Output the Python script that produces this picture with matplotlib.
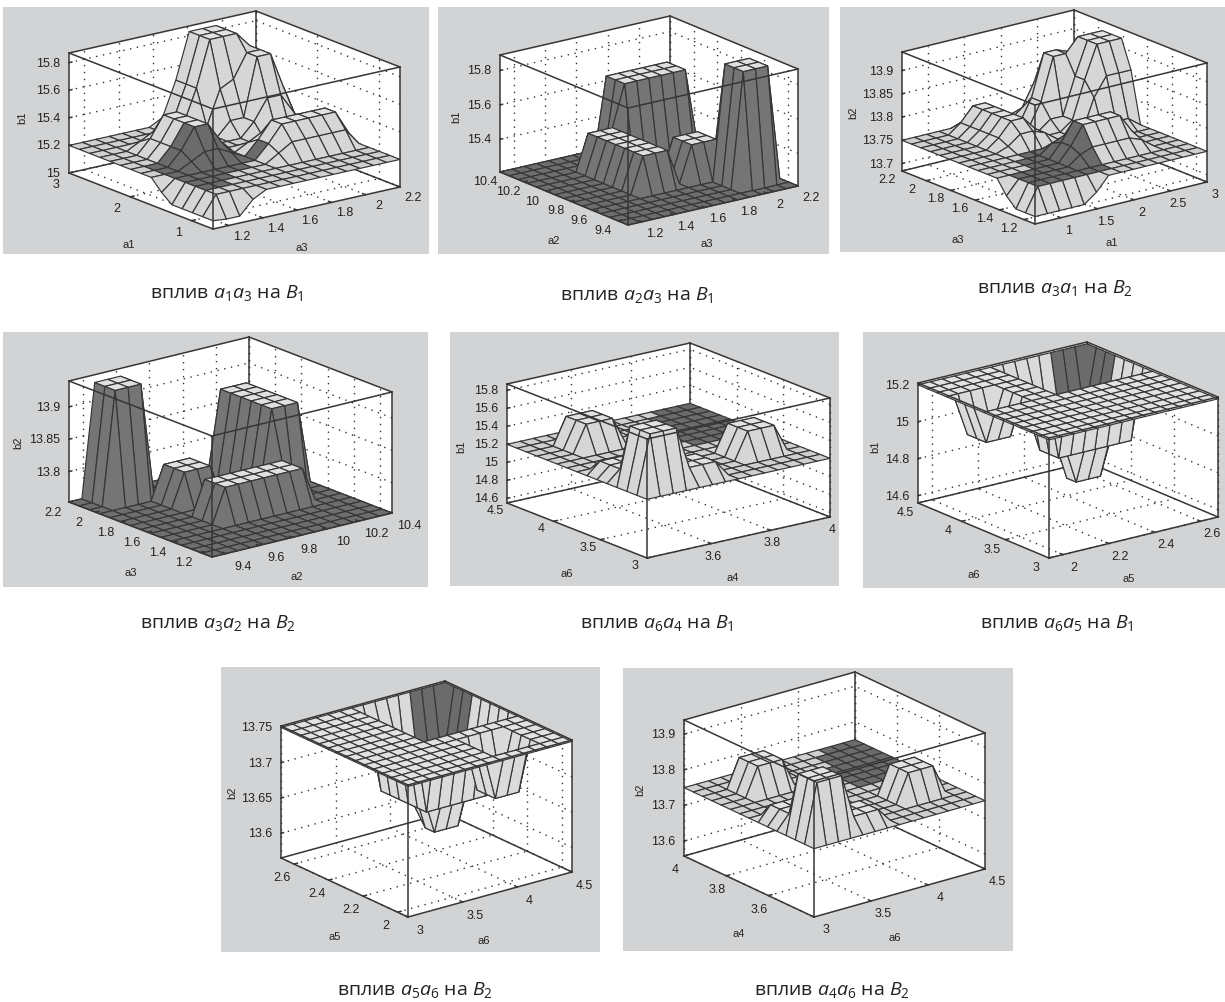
import numpy as np
import matplotlib
matplotlib.use("Agg")
import matplotlib.pyplot as plt
from matplotlib.colors import to_rgba
from matplotlib.patches import Rectangle
from mpl_toolkits.mplot3d import proj3d
from mpl_toolkits.mplot3d.art3d import Poly3DCollection

plt.rcParams['font.family'] = ['Liberation Sans', 'DejaVu Sans']
plt.rcParams['mathtext.fontset'] = 'custom'
plt.rcParams['mathtext.it'] = 'Open Sans:italic'
plt.rcParams['mathtext.rm'] = 'Open Sans'

W, H = 1225, 1003

# Surface heights, rows run along the y axis, 15 x 15 nodes
b = 15.2
z1 = [
    [15.06, 15.05, 15.05, 15.15] + [b] * 11,
    [15.06] + [b] * 14,
    [15.06] + [b] * 14,
    [15.06] + [b] * 14,
    [15.06] + [b] * 7 + [15.26] + [15.32] * 5 + [b],
    [15.12] + [b] * 7 + [15.3] + [15.42] * 5 + [15.25],
    [b] * 3 + [15.25, 15.3, 15.3, 15.25, b, 15.3] + [15.42] * 5 + [15.25],
    [b] * 3 + [15.3, 15.45, 15.45, 15.3, b, 15.25] + [15.3] * 5 + [b],
    [b] * 3 + [15.3, 15.45, 15.45, 15.3] + [b] * 8,
    [b] * 3 + [15.3, 15.45, 15.45, 15.3] + [b] * 3 + [15.3, 15.45, 15.45, 15.3, b],
    [b] * 3 + [15.3, 15.45, 15.45, 15.3, b, b, 15.3, 15.3, 15.72, 15.72, 15.45, b],
    [b] * 3 + [15.25, 15.3, 15.3, 15.25, b, 15.25, 15.5, 15.55, 15.72, 15.72, 15.45, b],
    [b] * 7 + [15.25, 15.5, 15.83, 15.83, 15.83, 15.72, 15.45, b],
    [b] * 7 + [15.25, 15.5, 15.83, 15.83, 15.83, 15.55, 15.25, b],
    [b] * 7 + [15.25, 15.5, 15.83, 15.83, 15.83, 15.45, b, b],
]

b = 15.21
z2 = [
    [b] * 15,
    [b] * 15,
    [b] * 11 + [15.88] * 3 + [b],
    [b] * 11 + [15.88] * 3 + [b],
    [b] * 11 + [15.88] * 3 + [b],
    [b] * 5 + [15.42] * 3 + [b] + [15.42] * 3 + [b] * 3,
    [b] * 5 + [15.42] * 3 + [b] + [15.42] * 3 + [b] * 3,
    [b] * 5 + [15.42] * 3 + [b] + [15.42] * 3 + [b] * 3,
    [b] * 5 + [15.42] * 3 + [b] * 7,
    [b] * 5 + [15.42] * 3 + [b] * 7,
    [b] * 5 + [15.42] * 3 + [b] * 7,
    [b] * 5 + [15.42] * 3 + [15.66] * 6 + [b],
    [b] * 8 + [15.66] * 6 + [b],
    [b] * 8 + [15.66] * 6 + [b],
    [b] * 15,
]

b = 13.75
z3 = [
    [13.7] * 5 + [13.72] + [b] * 9,
    [13.7] + [b] * 14,
    [13.7] + [b] * 14,
    [13.72] + [b] * 5 + [13.77] + [13.78] * 4 + [13.77] + [b] * 3,
    [b] * 6 + [13.78] + [13.82] * 4 + [13.78] + [b] * 3,
    [b] * 6 + [13.78] + [13.82] * 4 + [13.78] + [b] * 3,
    [b] * 6 + [13.77] + [13.78] * 4 + [13.77] + [b] * 3,
    [b] * 12 + [13.77, 13.77, b],
    [b] * 4 + [13.76, 13.78, 13.78, 13.77, b, b, b, 13.82, 13.86, 13.86, 13.86],
    [b] * 4 + [13.77, 13.8, 13.8, 13.77, b, b, 13.77, 13.85, 13.92, 13.92, 13.92],
    [b] * 4 + [13.77, 13.8, 13.8, 13.77, b, 13.77, 13.77, 13.85, 13.92, 13.92, 13.92],
    [b] * 4 + [13.77, 13.8, 13.8, 13.77, b, 13.8, 13.89, 13.89, 13.92, 13.92, 13.92],
    [b] * 4 + [13.77, 13.8, 13.8, 13.77, b, 13.8, 13.89, 13.89, 13.88, 13.8, b],
    [b] * 4 + [13.77, 13.8, 13.8, 13.77, b, 13.77, 13.82, 13.82, 13.78, b, b],
    [b] * 5 + [13.76, 13.76] + [b] * 8,
]

b = 13.753
z4 = [
    [b] * 15,
    [b] * 15,
    [b] * 15,
    [b] * 15,
    [b] * 15,
    [b] * 5 + [13.806] * 7 + [b] * 3,
    [b] * 5 + [13.806] * 7 + [b] * 3,
    [b] * 5 + [13.806] * 7 + [b] * 3,
    [b] * 11 + [13.88] * 3 + [b],
    [b] * 5 + [13.805] * 3 + [b] * 3 + [13.88] * 3 + [b],
    [b] * 5 + [13.805] * 3 + [b] * 3 + [13.88] * 3 + [b],
    [b] * 5 + [13.805] * 3 + [b] * 3 + [13.88] * 3 + [b],
    [b] * 2 + [13.928] * 3 + [b] * 6 + [13.88] * 3 + [b],
    [b] * 2 + [13.928] * 3 + [b] * 6 + [13.88] * 3 + [b],
    [b] * 2 + [13.928] * 3 + [b] * 10,
]

b = 15.2
z5 = [
    [b] * 15,
    [b] + [15.85] * 3 + [15.38] * 3 + [b] * 8,
    [b] + [15.85] * 3 + [15.38] * 3 + [b] * 8,
    [b] + [15.85] * 3 + [15.38] * 3 + [b] * 3 + [15.5] * 3 + [b] * 2,
    [b] + [15.33] * 3 + [b] * 6 + [15.5] * 3 + [b] * 2,
    [b] + [15.33] * 3 + [b] * 6 + [15.5] * 3 + [b] * 2,
    [b] + [15.33] * 3 + [b] * 11,
    [b] * 15,
    [b] * 15,
    [b] * 15,
    [b] * 3 + [15.5] * 3 + [b] * 9,
    [b] * 3 + [15.5] * 3 + [b] * 9,
    [b] * 3 + [15.5] * 3 + [b] * 9,
    [b] * 15,
    [b] * 15,
]

z6 = [
    [b] * 15,
    [b] * 15,
    [b] * 15,
    [b] * 15,
    [b] * 15,
    [b] * 15,
    [b] * 15,
    [b] * 15,
    [b] + [15.0] * 3 + [b] * 3 + [14.82] * 7 + [b],
    [b] + [15.0] * 3 + [b] * 3 + [14.82] * 7 + [b],
    [b] + [15.0] * 3 + [b] * 3 + [14.82] * 3 + [14.6] * 3 + [14.82, b],
    [b] * 7 + [14.95, 14.85, 14.82] + [14.6] * 3 + [14.82, b],
    [b] * 7 + [15.0] * 3 + [14.85] * 4 + [b],
    [b] * 7 + [15.0] * 3 + [14.85] * 4 + [b],
    [b] * 15,
]

b = 13.75
z7 = [
    [b] * 15,
    [b] * 15,
    [b] * 9 + [13.68] * 3 + [b] * 3,
    [b] * 9 + [13.68] * 3 + [b] * 3,
    [b] * 9 + [13.68] * 3 + [b] * 3,
    [b] * 15,
    [b] * 15,
    [b] * 7 + [13.64] * 7 + [b],
    [b] * 7 + [13.64] * 7 + [b],
    [b] * 7 + [13.64] * 7 + [b],
    [b] * 7 + [13.64] * 3 + [13.58] * 3 + [13.64, b],
    [b] * 7 + [13.64] * 3 + [13.58] * 3 + [13.64, b],
    [b] * 7 + [13.64] * 3 + [13.6] * 3 + [13.64, b],
    [b] * 7 + [13.7] * 3 + [13.64] * 4 + [b],
    [b] * 15,
]

z8 = [
    [b] * 15,
    [b] + [13.914] * 3 + [13.79] * 3 + [b] * 8,
    [b] + [13.914] * 3 + [13.79] * 3 + [b] * 8,
    [b] + [13.914] * 3 + [13.79] * 3 + [b] * 3 + [13.83] * 3 + [b] * 2,
    [b] + [13.79] * 3 + [b] * 6 + [13.83] * 3 + [b] * 2,
    [b] + [13.79] * 3 + [b] * 6 + [13.83] * 3 + [b] * 2,
    [b] + [13.79] * 3 + [b] * 11,
    [b] * 15,
    [b] * 15,
    [b] * 15,
    [b] * 3 + [13.83] * 3 + [b] * 9,
    [b] * 3 + [13.83] * 3 + [b] * 9,
    [b] * 3 + [13.83] * 3 + [b] * 9,
    [b] * 15,
    [b] * 15,
]

# Axis ranges and ticks
a1_range, a1_ticks = (0.65, 3), [1, 2, 3]
a1b_ticks = [1, 1.5, 2, 2.5, 3]
a2_range, a2_ticks = (9.315, 10.4), [9.4, 9.6, 9.8, 10, 10.2, 10.4]
a3_range, a3_ticks = (1.11, 2.2), [1.2, 1.4, 1.6, 1.8, 2, 2.2]
a4_range, a4_ticks = (3.384, 4), [3.6, 3.8, 4]
a5_range, a5_ticks = (1.94, 2.676), [2, 2.2, 2.4, 2.6]
a6_range, a6_ticks = (3, 4.5), [3, 3.5, 4, 4.5]

captions = [
    r"вплив $a_1a_3$ на $B_1$", r"вплив $a_2a_3$ на $B_1$", r"вплив $a_3a_1$ на $B_2$",
    r"вплив $a_3a_2$ на $B_2$", r"вплив $a_6a_4$ на $B_1$", r"вплив $a_6a_5$ на $B_1$",
    r"вплив $a_5a_6$ на $B_2$", r"вплив $a_4a_6$ на $B_2$",
]

# x, y and z of each panel
panels = [
    dict(z=z1, xr=a3_range, yr=a1_range, zr=(15, 15.87), xt=a3_ticks, yt=a1_ticks,
         zt=[15, 15.2, 15.4, 15.6, 15.8], names=("a3", "a1", "b1")),
    dict(z=z2, xr=a3_range, yr=a2_range, zr=(15.21, 15.89), xt=a3_ticks, yt=a2_ticks,
         zt=[15.4, 15.6, 15.8], names=("a3", "a2", "b1")),
    dict(z=z3, xr=a1_range, yr=a3_range, zr=(13.684, 13.94), xt=a1b_ticks, yt=a3_ticks,
         zt=[13.7, 13.75, 13.8, 13.85, 13.9], names=("a1", "a3", "b2")),
    dict(z=z4, xr=a2_range, yr=a3_range, zr=(13.753, 13.94), xt=a2_ticks, yt=a3_ticks,
         zt=[13.8, 13.85, 13.9], names=("a2", "a3", "b2")),
    dict(z=z5, xr=a4_range, yr=a6_range, zr=(14.548, 15.87), xt=a4_ticks, yt=a6_ticks,
         zt=[14.6, 14.8, 15, 15.2, 15.4, 15.6, 15.8], names=("a4", "a6", "b1")),
    dict(z=z6, xr=a5_range, yr=a6_range, zr=(14.56, 15.21), xt=a5_ticks, yt=a6_ticks,
         zt=[14.6, 14.8, 15, 15.2], names=("a5", "a6", "b1")),
    dict(z=z7, xr=a6_range, yr=a5_range, zr=(13.565, 13.752), xt=a6_ticks, yt=a5_ticks,
         zt=[13.6, 13.65, 13.7, 13.75], names=("a6", "a5", "b2")),
    dict(z=z8, xr=a6_range, yr=a4_range, zr=(13.558, 13.94), xt=a6_ticks, yt=a4_ticks,
         zt=[13.6, 13.7, 13.8, 13.9], names=("a6", "a4", "b2")),
]

# Layout in image pixels: grey box, box corners front / left / right, box height,
# tick label offsets, label spots for x, y, z and caption centre
layout = [
    dict(grey=(3, 8, 429, 255), F=(213, 230), L=(69, 174), R=(400, 188), h=120, xo=(13, 10), yo=(-13, 11),
         xl=(302, 248), yl=(129, 245), zl=(22, 118), cap=(227, 293)),
    dict(grey=(438, 8, 829, 255), F=(628, 226), L=(500, 173), R=(798, 187), h=117, xo=(13, 11), yo=(-15, 9),
         xl=(707, 244), yl=(554, 241), zl=(456, 117), cap=(637, 295)),
    dict(grey=(840, 8, 1225, 253), F=(1035, 225), L=(902, 172), R=(1207, 183), h=119, xo=(8, 12), yo=(-15, 8),
         xl=(1112, 243), yl=(958, 240), zl=(853, 113), cap=(1055, 288)),
    dict(grey=(3, 333, 428, 588), F=(212, 558), L=(69, 503), R=(392, 514), h=121, xo=(17, 12), yo=(-16, 10),
         xl=(297, 577), yl=(131, 573), zl=(18, 443), cap=(218, 623)),
    dict(grey=(450, 333, 839, 587), F=(647, 559), L=(507, 504), R=(830, 518), h=119, xo=(2, 12), yo=(-12, 7),
         xl=(733, 578), yl=(567, 574), zl=(461, 447), cap=(657, 623)),
    dict(grey=(863, 333, 1225, 589), F=(1049, 559), L=(918, 504), R=(1218, 518), h=120, xo=(11, 12), yo=(-13, 9),
         xl=(1129, 579), yl=(974, 575), zl=(875, 447), cap=(1057, 623)),
    dict(grey=(221, 668, 600, 953), F=(408, 918), L=(281, 859), R=(572, 873), h=132, xo=(12, 13), yo=(-12, 13),
         xl=(484, 941), yl=(335, 937), zl=(232, 793), cap=(415, 990)),
    dict(grey=(623, 669, 1013, 952), F=(814, 918), L=(684, 857), R=(985, 870), h=136, xo=(12, 12), yo=(-9, 13),
         xl=(895, 938), yl=(739, 934), zl=(640, 790), cap=(832, 990)),
]

# Colours: low flat, raised flat, slope, and the cells shown dark (i0, i1, j0, j1)
light_dark = dict(low="#d0d0d0", top="#e2e2e2", slope="#d6d6d6")
all_dark = dict(low="#6e6e6e", top="#e0e0e0", slope="#757575")
sheet = dict(low="#e2e2e2", top="#e2e2e2", slope="#dadada")
pit = [(9, 13, 7, 10), (10, 13, 11, 12), (11, 13, 13, 13)]
styles = [
    dict(light_dark, dark=[(1, 2, 2, 2), (1, 3, 3, 3), (1, 5, 4, 4), (1, 7, 5, 5), (1, 6, 6, 6), (1, 3, 7, 7)]),
    dict(all_dark, dark=[]),
    dict(light_dark, dark=[(1, 6, 1, 3), (3, 6, 4, 5), (4, 6, 6, 6)]),
    dict(all_dark, dark=[]),
    dict(light_dark, dark=pit),
    dict(sheet, dark=[(11, 13, 11, 13)]),
    dict(sheet, dark=[(11, 13, 11, 13)]),
    dict(light_dark, dark=pit),
]
dark_colour = "#6b6b6b"
line_colour = "#363636"
grey_colour = "#d1d3d4"
text_colour = "#222222"


def cell_colours(z, style):
    base = np.median(z)
    cols = np.zeros(z.shape + (4,))
    for j in range(z.shape[0] - 1):
        for i in range(z.shape[1] - 1):
            cell = z[j:j + 2, i:i + 2]
            if cell.max() - cell.min() > 1e-6:
                name = style["slope"]
            elif abs(cell.max() - base) < 1e-6:
                name = style["low"]
            else:
                name = style["top"]
            cols[j, i] = to_rgba(name)
    for i0, i1, j0, j1 in style["dark"]:
        cols[j0:j1 + 1, i0:i1 + 1] = to_rgba(dark_colour)
    return cols


def measure(ax, point):
    ax.apply_aspect()
    x2, y2, _ = proj3d.proj_transform(point[0], point[1], point[2], ax.get_proj())
    return ax.transData.transform((x2, y2))


fig = plt.figure(figsize=(W / 100, H / 100), dpi=100, facecolor="white")

for p, lay, style, caption in zip(panels, layout, styles, captions):
    x0, y0, x1, y1 = lay["grey"]
    fig.add_artist(Rectangle((x0 / W, 1 - y1 / H), (x1 - x0) / W, (y1 - y0) / H,
                             transform=fig.transFigure, fc=grey_colour, ec="none", zorder=-5))

    # view and box shape from where the corners sit in the picture
    ux, uy = lay["F"][0] - lay["L"][0], lay["F"][1] - lay["L"][1]
    vx, vy = lay["R"][0] - lay["F"][0], lay["F"][1] - lay["R"][1]
    sin_el = np.sqrt((uy / ux) * (vy / vx))
    el = np.arcsin(sin_el)
    beta = np.arctan(np.sqrt((uy / ux) / (vy / vx)))
    box = (vx / np.sin(beta), ux / np.cos(beta), lay["h"] / np.cos(el))

    ax = fig.add_axes([0, 0, 1000 / W, 1000 / H], projection="3d", proj_type="ortho")
    ax.computed_zorder = False
    ax.view_init(elev=np.degrees(el), azim=180 + np.degrees(beta))
    ax.set_box_aspect(box)
    ax.set_axis_off()
    ax.patch.set_visible(False)

    xa, xb = p["xr"]
    ya, yb = p["yr"]
    za, zb = p["zr"]
    ax.set_xlim(xa, xb)
    ax.set_ylim(ya, yb)
    ax.set_zlim(za, zb)

    # white floor and back walls
    faces = [
        [(xa, ya, za), (xb, ya, za), (xb, yb, za), (xa, yb, za)],
        [(xa, yb, za), (xb, yb, za), (xb, yb, zb), (xa, yb, zb)],
        [(xb, ya, za), (xb, yb, za), (xb, yb, zb), (xb, ya, zb)],
    ]
    ax.add_collection3d(Poly3DCollection(faces, facecolor="white", edgecolor="none", zorder=1))

    dots = dict(color="#333333", linestyle=(0, (1, 4)), linewidth=1.0, zorder=2)
    for t in p["xt"]:
        ax.plot([t, t], [ya, yb], [za, za], **dots)
        ax.plot([t, t], [yb, yb], [za, zb], **dots)
    for t in p["yt"]:
        ax.plot([xa, xb], [t, t], [za, za], **dots)
        ax.plot([xb, xb], [t, t], [za, zb], **dots)
    for t in p["zt"]:
        ax.plot([xa, xb], [yb, yb], [t, t], **dots)
        ax.plot([xb, xb], [ya, yb], [t, t], **dots)

    edge = dict(color=line_colour, linewidth=1.1)
    back = [
        ([xa, xb], [yb, yb], [za, za]), ([xb, xb], [ya, yb], [za, za]),
        ([xb, xb], [yb, yb], [za, zb]), ([xa, xb], [yb, yb], [zb, zb]),
        ([xb, xb], [ya, yb], [zb, zb]), ([xa, xa], [yb, yb], [za, zb]),
        ([xb, xb], [ya, ya], [za, zb]),
    ]
    for xs, ys, zs in back:
        ax.plot(xs, ys, zs, zorder=2.5, **edge)

    z = np.array(p["z"])
    X, Y = np.meshgrid(np.linspace(xa, xb, z.shape[1]), np.linspace(ya, yb, z.shape[0]))
    ax.plot_surface(X, Y, z, facecolors=cell_colours(z, style), rstride=1, cstride=1,
                    shade=False, edgecolor=line_colour, linewidth=0.85, zorder=3)

    front = [
        ([xa, xb], [ya, ya], [za, za]), ([xa, xa], [ya, yb], [za, za]),
        ([xa, xa], [ya, ya], [za, zb]), ([xa, xb], [ya, ya], [zb, zb]),
        ([xa, xa], [ya, yb], [zb, zb]),
    ]
    for xs, ys, zs in front:
        ax.plot(xs, ys, zs, zorder=4, **edge)

    # tick marks
    dxr, dyr = xb - xa, yb - ya
    for t in p["xt"]:
        ax.plot([t, t], [ya, ya + 0.02 * dyr], [za, za], zorder=4, **edge)
    for t in p["yt"]:
        ax.plot([xa, xa + 0.02 * dxr], [t, t], [za, za], zorder=4, **edge)
    for t in p["zt"]:
        ax.plot([xa, xa + 0.015 * dxr], [yb, yb], [t, t], zorder=4, **edge)

    # fit the square axes so that the box lands on its corners
    left = measure(ax, (xa, yb, za))
    right = measure(ax, (xb, ya, za))
    size = 1000 * (lay["R"][0] - lay["L"][0]) / (right[0] - left[0])
    ax.set_position([0, 0, size / W, size / H])
    spot = measure(ax, (xa, ya, za))
    shift_x = lay["F"][0] - spot[0]
    shift_y = (H - lay["F"][1]) - spot[1]
    ax.set_position([shift_x / W, shift_y / H, size / W, size / H])

    # tick labels, placed from where the ticks landed
    tick_font = dict(fontsize=9, color=text_colour, va="center")
    for t in p["xt"]:
        px, py = measure(ax, (t, ya, za))
        fig.text((px + lay["xo"][0]) / W, (py - lay["xo"][1]) / H, str(t), ha="center", **tick_font)
    for t in p["yt"]:
        px, py = measure(ax, (xa, t, za))
        fig.text((px + lay["yo"][0]) / W, (py - lay["yo"][1]) / H, str(t), ha="center", **tick_font)
    for t in p["zt"]:
        px, py = measure(ax, (xa, yb, t))
        fig.text((px - 9) / W, py / H, str(t), ha="right", **tick_font)

    label_font = dict(fontsize=8, color=text_colour, ha="center", va="center")
    fig.text(lay["xl"][0] / W, 1 - lay["xl"][1] / H, p["names"][0], **label_font)
    fig.text(lay["yl"][0] / W, 1 - lay["yl"][1] / H, p["names"][1], **label_font)
    fig.text(lay["zl"][0] / W, 1 - lay["zl"][1] / H, p["names"][2], rotation=90, **label_font)
    fig.text(lay["cap"][0] / W, 1 - lay["cap"][1] / H, caption, fontsize=14, family="Open Sans",
             color=text_colour, ha="center", va="center")

fig.savefig("out.png", dpi=100)
